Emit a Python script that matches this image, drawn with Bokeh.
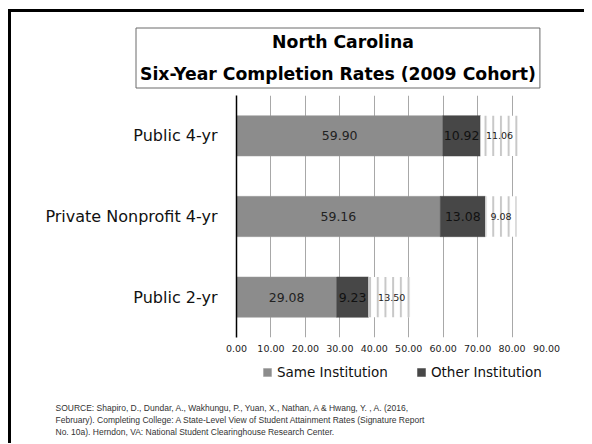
import numpy as np
from bokeh.plotting import figure
from bokeh.layouts import column
from bokeh.models import (FactorRange, Range1d, ColumnDataSource, FixedTicker,
                          NumeralTickFormatter, Legend, LegendItem, Title)
from bokeh.core.properties import value
from bokeh.embed import file_html
from bokeh.resources import INLINE

categories = ["Public 4-yr", "Private Nonprofit 4-yr", "Public 2-yr"]
same_institution = [59.90, 59.16, 29.08]
other_institution = [10.92, 13.08, 9.23]
striped_segment = [11.06, 9.08, 13.50]
x_ticks = [0, 10, 20, 30, 40, 50, 60, 70, 80, 90]
legend_labels = ["Same Institution", "Other Institution"]
title_lines = ["North Carolina", "Six-Year Completion Rates (2009 Cohort)"]
source_lines = [
    "SOURCE:  Shapiro, D., Dundar, A., Wakhungu, P., Yuan, X., Nathan, A & Hwang, Y. , A. (2016,",
    "February). Completing College: A State-Level View of Student Attainment Rates (Signature Report",
    "No. 10a). Herndon, VA: National Student Clearinghouse Research Center.",
]

FONT = "DejaVu Sans"
SAME_COLOR, OTHER_COLOR = "#8c8c8c", "#474747"
W = 573
LEFT, RIGHT = 225, 38
FRAME_TOP, FRAME_H = 83, 242
MAIN_H = 347
FOOT_H, FOOT_BOTTOM = 84, 60

same_end = list(same_institution)
other_end = [s + o for s, o in zip(same_institution, other_institution)]
third_end = [e + t for e, t in zip(other_end, striped_segment)]

src = ColumnDataSource(dict(
    cat=categories,
    zero=[0] * len(categories),
    same_end=same_end,
    other_end=other_end,
    third_end=third_end,
    same_mid=[s / 2 for s in same_institution],
    other_mid=[s + o / 2 for s, o in zip(same_institution, other_institution)],
    third_mid=[e + t / 2 for e, t in zip(other_end, striped_segment)],
    same_lbl=["%.2f" % v for v in same_institution],
    other_lbl=["%.2f" % v for v in other_institution],
    third_lbl=["%.2f" % v for v in striped_segment],
))

# ---------------- main chart ----------------
p = figure(width=W, height=MAIN_H, output_backend="svg", toolbar_location=None,
           y_range=FactorRange(factors=list(reversed(categories)), range_padding=0),
           x_range=Range1d(0, 90),
           min_border_left=LEFT, min_border_top=FRAME_TOP, min_border_right=RIGHT,
           min_border_bottom=MAIN_H - FRAME_TOP - FRAME_H)
p.outline_line_color = None

p.ygrid.grid_line_color = None
p.xgrid.ticker = FixedTicker(ticks=x_ticks)
p.xgrid.grid_line_color = "#a8a8a8"
p.xgrid.grid_line_width = 1

p.xaxis.ticker = FixedTicker(ticks=x_ticks)
p.xaxis.formatter = NumeralTickFormatter(format="0.00")
p.xaxis.axis_line_color = None
p.xaxis.major_tick_line_color = None
p.xaxis.minor_tick_line_color = None
p.xaxis.major_tick_out = 0
p.xaxis.major_tick_in = 0
p.xaxis.minor_tick_out = 0
p.xaxis.major_label_text_font = FONT
p.xaxis.major_label_text_font_size = "9.5px"
p.xaxis.major_label_text_color = "#222222"
p.xaxis.major_label_standoff = 7

p.yaxis.axis_line_color = "black"
p.yaxis.axis_line_width = 1.5
p.yaxis.major_tick_line_color = None
p.yaxis.minor_tick_line_color = None
p.yaxis.major_tick_out = 0
p.yaxis.major_tick_in = 0
p.yaxis.major_label_text_font = FONT
p.yaxis.major_label_text_font_size = "16px"
p.yaxis.major_label_text_color = "#111111"
p.yaxis.major_label_standoff = 19

H = 0.5
p.hbar(y="cat", left="zero", right="same_end", height=H, source=src,
       fill_color=SAME_COLOR, line_color="#9a9a9a", line_width=0.5)
p.hbar(y="cat", left="same_end", right="other_end", height=H, source=src,
       fill_color=OTHER_COLOR, line_color=OTHER_COLOR, line_width=0.5)
p.hbar(y="cat", left="other_end", right="third_end", height=H, source=src,
       fill_color="white", line_color=None,
       hatch_pattern="|", hatch_color="#c8c8c8", hatch_weight=2, hatch_scale=7.7)

p.text(x="same_mid", y="cat", text="same_lbl", source=src, text_align="center",
       text_baseline="middle", text_font=value(FONT), text_font_size="12.5px", text_color="#222222")
p.text(x="other_mid", y="cat", text="other_lbl", source=src, text_align="center",
       text_baseline="middle", text_font=value(FONT), text_font_size="12.5px", text_color="#111111")
p.text(x="third_mid", y="cat", text="third_lbl", source=src, text_align="center",
       text_baseline="middle", text_font=value(FONT), text_font_size="9.5px", text_color="#222222")

# title box (two centred lines inside a bordered box)
NBSP = "\u00a0"
title_text = NBSP * 22 + title_lines[0] + "\n" + title_lines[1]
p.add_layout(Title(text=title_text, align="left", offset=-100.5, vertical_align="bottom",
                   standoff=15, text_font=FONT, text_font_style="bold", text_font_size="17.25px",
                   text_line_height=1.6, text_color="black",
                   border_line_color="#6a6a6a", border_line_width=1,
                   background_fill_color="white", padding=4), "above")

# ---------------- footer: legend + source ----------------
foot = figure(width=W, height=FOOT_H, output_backend="svg", toolbar_location=None,
              x_range=Range1d(0, 1), y_range=Range1d(0, 1),
              x_axis_type=None, y_axis_type=None,
              min_border_left=LEFT, min_border_right=RIGHT, min_border_top=0,
              min_border_bottom=FOOT_BOTTOM)
foot.outline_line_color = None
foot.grid.visible = False

# legend swatches: same styles as the bars above; their single row is NaN so nothing is drawn
nan = np.array([np.nan])
lg_same = foot.quad(left=nan, right=nan, top=nan, bottom=nan, fill_color=SAME_COLOR,
                    line_color="#9a9a9a", line_width=0.5)
lg_other = foot.quad(left=nan, right=nan, top=nan, bottom=nan, fill_color=OTHER_COLOR,
                     line_color=OTHER_COLOR, line_width=0.5)
legend = Legend(items=[LegendItem(label=legend_labels[0], renderers=[lg_same]),
                       LegendItem(label=legend_labels[1], renderers=[lg_other])],
                orientation="horizontal", location=(26, 3),
                glyph_width=10, glyph_height=10, label_standoff=5, spacing=28,
                padding=0, margin=0, border_line_color=None, background_fill_alpha=0,
                label_text_font=FONT, label_text_font_size="13.5px", label_text_color="#111111")
foot.add_layout(legend)

foot.add_layout(Title(text=NBSP + "\n" + "\n".join(source_lines), align="left", offset=-181,
                      vertical_align="bottom", standoff=10, text_font="Liberation Sans",
                      text_font_style="normal", text_font_size="8.5px", text_line_height=1.2,
                      text_color="#333333"),
                "below")

layout = column(p, foot, spacing=0,
                styles={"border-left": "3px solid black", "border-top": "3px solid black",
                        "margin-left": "8px", "margin-top": "9px"})

open("out.html", "w").write(file_html(layout, INLINE))
